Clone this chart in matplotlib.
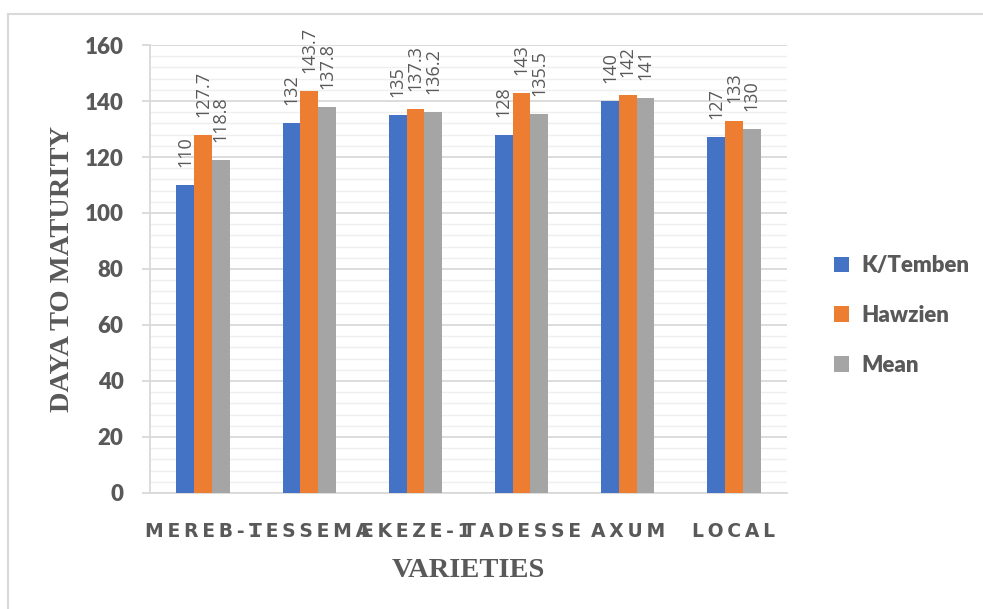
import numpy as np
import matplotlib.pyplot as plt
from matplotlib.lines import Line2D
from matplotlib.ticker import MultipleLocator

# --- data ---
varieties = ["MEREB-1", "TESSEMA", "EKEZE-1", "TADESSE", "AXUM", "LOCAL"]
k_temben = [110, 132, 135, 128, 140, 127]
hawzien = [127.7, 143.7, 137.3, 143, 142, 133]
mean = [118.8, 137.8, 136.2, 135.5, 141, 130]

series = [("K/Temben", k_temben, "#4472C4"),
          ("Hawzien", hawzien, "#ED7D31"),
          ("Mean", mean, "#A5A5A5")]

TXT = "#595959"
GRID = "#D9D9D9"

fig = plt.figure(figsize=(9.83, 6.09), dpi=100)
ax = fig.add_axes([0.1526, 0.1905, 0.648, 0.7356])

x = np.arange(len(varieties))
w = 0.167
for i, (name, vals, col) in enumerate(series):
    pos = x + (i - 1) * w
    ax.bar(pos, vals, width=w, color=col, label=name, zorder=3)
    for px, v in zip(pos, vals):
        ax.annotate(f"{v:g}", (px, v), xytext=(0, 13), textcoords="offset points",
                    rotation=90, ha="center", va="bottom", color=TXT,
                    fontsize=13, family="Open Sans")

ax.set_xlim(-0.5, len(varieties) - 0.5)
ax.set_ylim(0, 160)
ax.yaxis.set_major_locator(MultipleLocator(20))
ax.yaxis.set_minor_locator(MultipleLocator(4))
ax.grid(axis="y", which="major", color=GRID, lw=1.3, zorder=0)
ax.grid(axis="y", which="minor", color="#EFEFEF", lw=1.0, zorder=0)

for s in ["top", "right"]:
    ax.spines[s].set_visible(False)
ax.spines["left"].set_color(GRID)
ax.spines["bottom"].set_color(GRID)
ax.spines["left"].set_linewidth(1.3)
ax.spines["bottom"].set_linewidth(1.3)

ax.tick_params(axis="y", which="major", length=6, width=1.3, color=GRID, pad=13,
               labelcolor=TXT)
ax.tick_params(axis="y", which="minor", length=0)
ax.tick_params(axis="x", length=0, pad=21, labelcolor=TXT)
for lbl in ax.get_yticklabels():
    lbl.set_fontfamily("Lato")
    lbl.set_fontweight("heavy")
    lbl.set_fontsize(16)

# spaced-out category labels
ax.set_xticks(x)
ax.set_xticklabels(["\u2009".join(v) for v in varieties], fontsize=13.5,
                   fontweight="bold", family="DejaVu Sans")

ax.set_xlabel("VARIETIES", family="Liberation Serif", fontweight="bold",
              fontsize=20.5, color=TXT, labelpad=12)
ax.set_ylabel("DAYA TO MATURITY", family="Liberation Serif", fontweight="bold",
              fontsize=20.5, color=TXT, labelpad=7)

leg = fig.legend(loc="center left", bbox_to_anchor=(0.828, 0.482), frameon=False,
                 prop={"family": "Lato", "weight": "heavy", "size": 16},
                 handlelength=0.7, handleheight=0.7, handletextpad=0.55,
                 labelspacing=1.3)
for t in leg.get_texts():
    t.set_color(TXT)

# outer chart border
fig.add_artist(Line2D([0.0085, 0.0085], [0, 0.977], color="#D9D9D9", lw=1.5))
fig.add_artist(Line2D([0.0085, 1.0], [0.977, 0.977], color="#D9D9D9", lw=1.5))

fig.savefig("out.png", dpi=100)
